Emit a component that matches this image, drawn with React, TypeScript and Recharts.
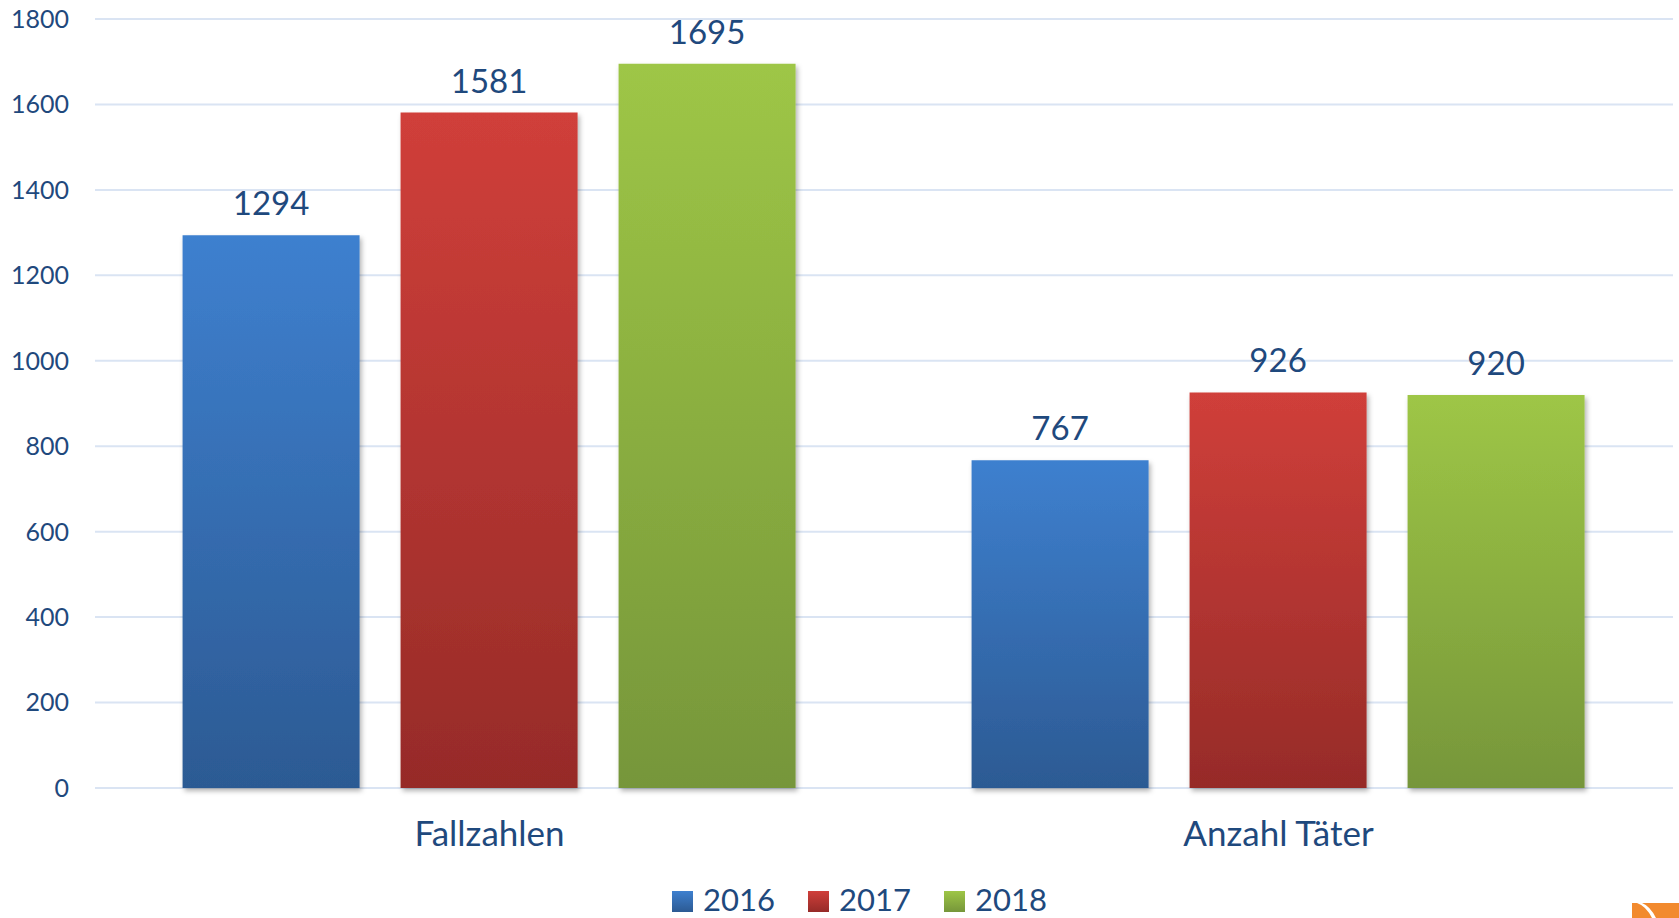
import { BarChart, Bar, XAxis, YAxis, CartesianGrid, Legend, LabelList } from "recharts";

// Werte aus der Grafik
const categories = ["Fallzahlen", "Anzahl Täter"];
const values2016 = [1294, 767];
const values2017 = [1581, 926];
const values2018 = [1695, 920];
const years = ["2016", "2017", "2018"];
const yTicks = [0, 200, 400, 600, 800, 1000, 1200, 1400, 1600, 1800];

const data = categories.map((name, i) => ({
  name,
  "2016": values2016[i],
  "2017": values2017[i],
  "2018": values2018[i],
}));

const TEXT = "#1F497D";
const FONT = "Lato, 'Open Sans', sans-serif";

const grads = [
  { id: "g2016", top: "#3E80CF", bottom: "#2C5A93" },
  { id: "g2017", top: "#D03F3A", bottom: "#962B28" },
  { id: "g2018", top: "#9EC646", bottom: "#76963A" },
];

function LegendBox() {
  return (
    <div style={{ display: "flex", justifyContent: "center", alignItems: "center", height: 32, marginLeft: 46, marginTop: -3 }}>
      {years.map((y, i) => (
        <div key={y} style={{ display: "flex", alignItems: "center", marginRight: i < 2 ? 33 : 0 }}>
          <div
            style={{
              width: 21,
              height: 21,
              marginRight: 10,
              marginTop: 5,
              background: `linear-gradient(${grads[i].top}, ${grads[i].bottom})`,
            }}
          />
          <span style={{ fontFamily: FONT, fontSize: 31, color: TEXT, lineHeight: "31px" }}>{y}</span>
        </div>
      ))}
    </div>
  );
}

export default function App() {
  return (
    <div style={{ position: "absolute", left: 0, top: 0, width: 1679, height: 918, background: "#fff", overflow: "hidden" }}>
      <BarChart
        width={1679}
        height={918}
        data={data}
        margin={{ top: 19, right: 6, bottom: 0, left: 0 }}
        barCategoryGap="11.1%"
        barGap={41}
      >
        <defs>
          {grads.map((g) => (
            <linearGradient key={g.id} id={g.id} x1="0" y1="0" x2="0" y2="1">
              <stop offset="0%" stopColor={g.top} />
              <stop offset="100%" stopColor={g.bottom} />
            </linearGradient>
          ))}
          <filter id="shadow" x="-10%" y="-10%" width="130%" height="130%">
            <feDropShadow dx="2" dy="3" stdDeviation="2.5" floodColor="#000" floodOpacity="0.3" />
          </filter>
        </defs>
        <CartesianGrid vertical={false} stroke="#DAE4F3" strokeWidth={2} />
        <XAxis
          dataKey="name"
          axisLine={false}
          tickLine={false}
          height={98}
          tickMargin={27}
          tick={{ fill: TEXT, fontSize: 35, fontFamily: FONT }}
        />
        <YAxis
          width={95}
          domain={[0, 1800]}
          ticks={yTicks}
          axisLine={false}
          tickLine={false}
          tickMargin={20}
          tick={{ fill: TEXT, fontSize: 25, fontFamily: FONT }}
        />
        <Legend verticalAlign="bottom" height={32} content={() => <LegendBox />} />
        {years.map((y, i) => (
          <Bar key={y} dataKey={y} fill={`url(#${grads[i].id})`} filter="url(#shadow)" isAnimationActive={false}>
            <LabelList dataKey={y} position="top" offset={20} fill={TEXT} fontSize={33} fontFamily={FONT} />
          </Bar>
        ))}
      </BarChart>
      <svg style={{ position: "absolute", left: 1632, top: 903 }} width={47} height={15}>
        <rect x={0} y={0} width={47} height={15} fill="#F28A2E" />
        <path d="M5 0 Q14 3 20 15 L24 15 Q18 3 10 0 Z" fill="#fff" />
      </svg>
    </div>
  );
}
